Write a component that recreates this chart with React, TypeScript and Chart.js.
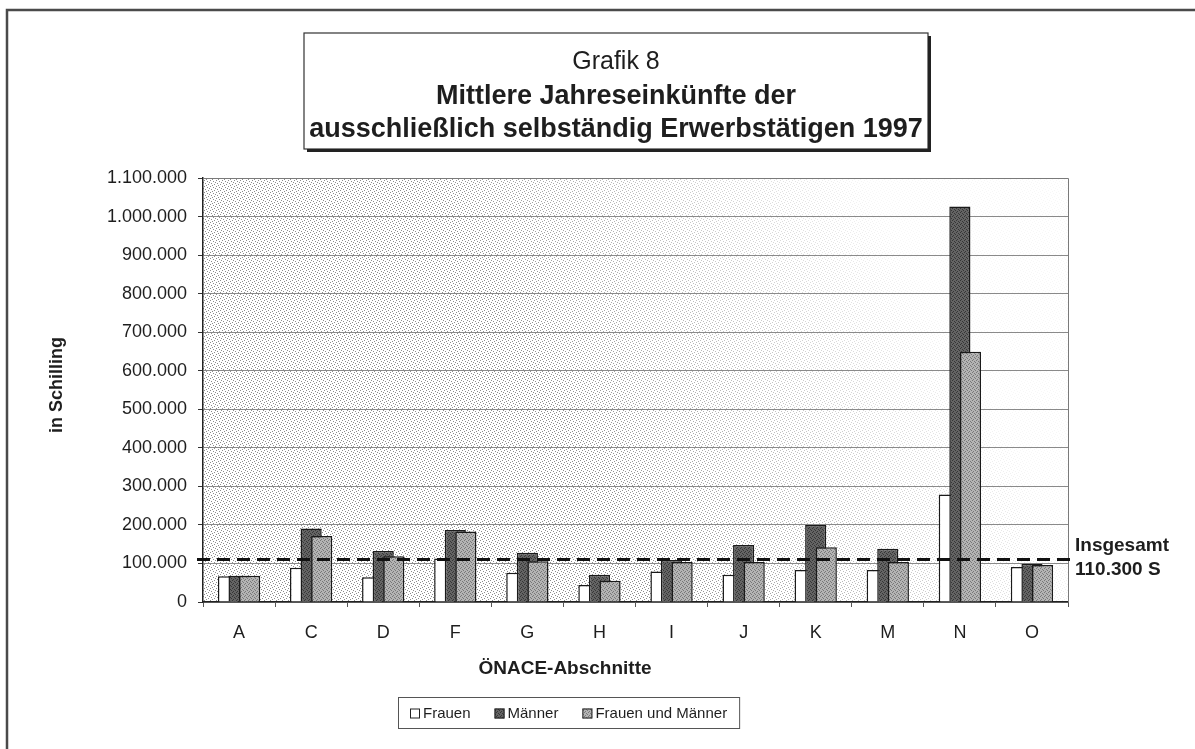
import React, { useEffect, useRef } from 'react';
import { Chart, registerables } from 'chart.js';

Chart.register(...registerables);

const categories = ['A', 'C', 'D', 'F', 'G', 'H', 'I', 'J', 'K', 'M', 'N', 'O'];
const frauen = [67000, 89000, 64000, 113000, 76000, 44000, 79000, 71000, 83000, 83000, 279000, 91000];
const maenner = [68000, 191000, 132000, 187000, 128000, 71000, 109000, 148000, 200000, 138000, 1026000, 99000];
const beide = [68000, 171000, 119000, 183000, 106000, 55000, 104000, 104000, 142000, 104000, 649000, 96000];
const seriesLabels = ['Frauen', 'Männer', 'Frauen und Männer'];
const insgesamt = 110300;
const yMin = 0;
const yMax = 1100000;
const yStep = 100000;
const titleLines = ['Grafik 8', 'Mittlere Jahreseinkünfte der', 'ausschließlich selbständig Erwerbstätigen 1997'];
const yTitle = 'in Schilling';
const xTitle = 'ÖNACE-Abschnitte';
const refLabel = 'Insgesamt';
const refUnit = 'S';

const FONT = "'Liberation Sans', Arial, Helvetica, sans-serif";
const TEXT = '#1e1e1e';

const fmt = (v: number) => String(Math.round(v)).replace(/\B(?=(\d{3})+(?!\d))/g, '.');

function makePattern(ctx: CanvasRenderingContext2D, base: string, dot: string, dots: number[][], size: number) {
  const c = document.createElement('canvas');
  c.width = size;
  c.height = size;
  const t = c.getContext('2d')!;
  t.fillStyle = base;
  t.fillRect(0, 0, size, size);
  t.fillStyle = dot;
  for (const [x, y] of dots) t.fillRect(x, y, 1, 1);
  return ctx.createPattern(c, 'repeat')!;
}

export default function App() {
  const ref = useRef<HTMLCanvasElement | null>(null);

  useEffect(() => {
    const canvas = ref.current!;
    const ctx0 = canvas.getContext('2d')!;
    const bgPattern = makePattern(ctx0, '#ffffff', '#8c8c8c', [[0, 0], [3, 1], [1, 3], [4, 4], [2, 5], [5, 2]], 6);
    const menPattern = makePattern(ctx0, '#646464', '#363636', [[0, 0], [2, 1], [1, 3], [3, 2]], 4);
    const bothPattern = makePattern(ctx0, '#b4b4b4', '#787878', [[0, 0], [2, 1], [1, 3], [3, 2]], 4);
    const fills = ['#ffffff', menPattern, bothPattern];

    const bgPlugin = {
      id: 'bg',
      beforeDraw(chart: any) {
        const ctx = chart.ctx as CanvasRenderingContext2D;
        const a = chart.chartArea;
        ctx.save();
        ctx.fillStyle = '#ffffff';
        ctx.fillRect(0, 0, chart.width, chart.height);
        ctx.fillStyle = bgPattern;
        ctx.fillRect(a.left, a.top, a.right - a.left, a.bottom - a.top);
        const g = ctx.createLinearGradient(a.left + 0.41 * (a.right - a.left), a.top + 0.57 * (a.bottom - a.top), a.left + 0.8 * (a.right - a.left), a.top + 0.12 * (a.bottom - a.top));
        g.addColorStop(0, 'rgba(255,255,255,0)');
        g.addColorStop(1, 'rgba(255,255,255,0.93)');
        ctx.fillStyle = g;
        ctx.fillRect(a.left, a.top, a.right - a.left, a.bottom - a.top);
        ctx.restore();
      },
      beforeDatasetsDraw(chart: any) {
        const ctx = chart.ctx as CanvasRenderingContext2D;
        const a = chart.chartArea;
        ctx.save();
        ctx.strokeStyle = '#7a7a7a';
        ctx.lineWidth = 1;
        ctx.beginPath();
        ctx.moveTo(a.left, a.top + 0.5);
        ctx.lineTo(a.right + 0.5, a.top + 0.5);
        ctx.lineTo(a.right + 0.5, a.bottom);
        ctx.stroke();
        ctx.restore();
        for (let i = 0; i < chart.data.datasets.length; i++) {
          const meta = chart.getDatasetMeta(i);
          if (meta.visible !== false) meta.controller.draw();
        }
        return false;
      },
      afterDraw(chart: any) {
        const ctx = chart.ctx as CanvasRenderingContext2D;
        const a = chart.chartArea;
        const ys = chart.scales.y;
        ctx.save();
        // outer frame
        ctx.strokeStyle = '#4a4a4a';
        ctx.lineWidth = 2.5;
        ctx.beginPath();
        ctx.moveTo(7, chart.height + 5);
        ctx.lineTo(7, 10);
        ctx.lineTo(chart.width + 5, 10);
        ctx.stroke();

        // reference dashed line
        const yRef = ys.getPixelForValue(insgesamt);
        ctx.strokeStyle = '#111';
        ctx.lineWidth = 3;
        ctx.setLineDash([13, 7]);
        ctx.beginPath();
        ctx.moveTo(a.left - 6, yRef);
        ctx.lineTo(a.right + 8, yRef);
        ctx.stroke();
        ctx.setLineDash([]);
        ctx.fillStyle = TEXT;
        ctx.font = `bold 19px ${FONT}`;
        ctx.textAlign = 'left';
        ctx.textBaseline = 'middle';
        ctx.fillText(refLabel, a.right + 7, yRef - 14);
        ctx.fillText(`${fmt(insgesamt)} ${refUnit}`, a.right + 7, yRef + 10);

        // title box
        const bx = 304, by = 33, bw = 624, bh = 116;
        ctx.fillStyle = '#ffffff';
        ctx.fillRect(bx, by, bw, bh);
        ctx.strokeStyle = '#333';
        ctx.lineWidth = 1.2;
        ctx.strokeRect(bx, by, bw, bh);
        ctx.lineWidth = 3;
        ctx.strokeStyle = '#222';
        ctx.beginPath();
        ctx.moveTo(bx + bw + 1.5, by + 3);
        ctx.lineTo(bx + bw + 1.5, by + bh + 1.5);
        ctx.lineTo(bx + 3, by + bh + 1.5);
        ctx.stroke();
        ctx.fillStyle = TEXT;
        ctx.textAlign = 'center';
        ctx.textBaseline = 'middle';
        const cx = bx + bw / 2;
        ctx.font = `25px ${FONT}`;
        ctx.fillText(titleLines[0], cx, 62);
        ctx.font = `bold 27px ${FONT}`;
        ctx.fillText(titleLines[1], cx, 97);
        ctx.fillText(titleLines[2], cx, 130);

        // axis titles
        ctx.font = `bold 19px ${FONT}`;
        ctx.fillText(xTitle, 565, 669);
        ctx.save();
        ctx.translate(57, (a.top + a.bottom) / 2 - 5);
        ctx.rotate(-Math.PI / 2);
        ctx.font = `bold 18px ${FONT}`;
        ctx.fillText(yTitle, 0, 0);
        ctx.restore();

        // legend
        ctx.font = `15px ${FONT}`;
        ctx.textAlign = 'left';
        const box = 10, gapBox = 3, gapItem = 24, padX = 12;
        const widths = seriesLabels.map((s) => ctx.measureText(s).width);
        const total = widths.reduce((s, w) => s + w + box + gapBox, 0) + gapItem * (seriesLabels.length - 1) + padX * 2;
        const lx = 398, ly = 697, lh = 31;
        ctx.strokeStyle = '#555';
        ctx.lineWidth = 1;
        ctx.strokeRect(lx + 0.5, ly + 0.5, total, lh);
        let x = lx + padX;
        const my = ly + lh / 2 + 1;
        seriesLabels.forEach((s, i) => {
          ctx.fillStyle = fills[i] as any;
          ctx.fillRect(x, my - box / 2, box, box);
          ctx.strokeStyle = '#222';
          ctx.lineWidth = 1;
          ctx.strokeRect(x + 0.5, my - box / 2 + 0.5, box - 1, box - 1);
          ctx.fillStyle = TEXT;
          ctx.fillText(s, x + box + gapBox, my);
          x += box + gapBox + widths[i] + gapItem;
        });
        ctx.restore();
      },
    };

    const chart = new Chart(canvas, {
      type: 'bar',
      data: {
        labels: categories,
        datasets: [
          { label: seriesLabels[0], data: frauen, backgroundColor: fills[0], borderColor: '#1a1a1a', borderWidth: 1.5 },
          { label: seriesLabels[1], data: maenner, backgroundColor: fills[1], borderColor: '#1a1a1a', borderWidth: 1.5 },
          { label: seriesLabels[2], data: beide, backgroundColor: fills[2], borderColor: '#1a1a1a', borderWidth: 1.5 },
        ] as any,
      },
      options: {
        responsive: false,
        animation: false,
        events: [],
        layout: { padding: { top: 178, right: 127, bottom: 87, left: 0 } },
        datasets: { bar: { categoryPercentage: 0.44, barPercentage: 2.0 } } as any,
        plugins: {
          legend: { display: false },
          title: { display: false },
          tooltip: { enabled: false },
        },
        scales: {
          x: {
            grid: { offset: true, drawOnChartArea: false, tickLength: 5, color: '#555' },
            border: { color: '#222', width: 1.5 },
            ticks: { font: { family: FONT, size: 18 }, color: TEXT, padding: 15 },
            afterFit: (s: any) => { s.height = 60; },
          },
          y: {
            min: yMin,
            max: yMax,
            ticks: { stepSize: yStep, callback: (v: any) => fmt(Number(v)), font: { family: FONT, size: 18 }, color: TEXT, padding: 11 },
            grid: { color: '#8a8a8a', lineWidth: 1, tickLength: 5, tickColor: '#333' },
            border: { color: '#222', width: 1.5 },
            afterFit: (s: any) => { s.width = 203; },
          },
        },
      } as any,
      plugins: [bgPlugin],
    });
    return () => chart.destroy();
  }, []);

  return (
    <div style={{ position: 'fixed', left: 0, top: 0, width: 1195, height: 749, background: '#fff' }}>
      <canvas ref={ref} width={1195} height={749} style={{ display: 'block', width: 1195, height: 749 }} />
    </div>
  );
}
